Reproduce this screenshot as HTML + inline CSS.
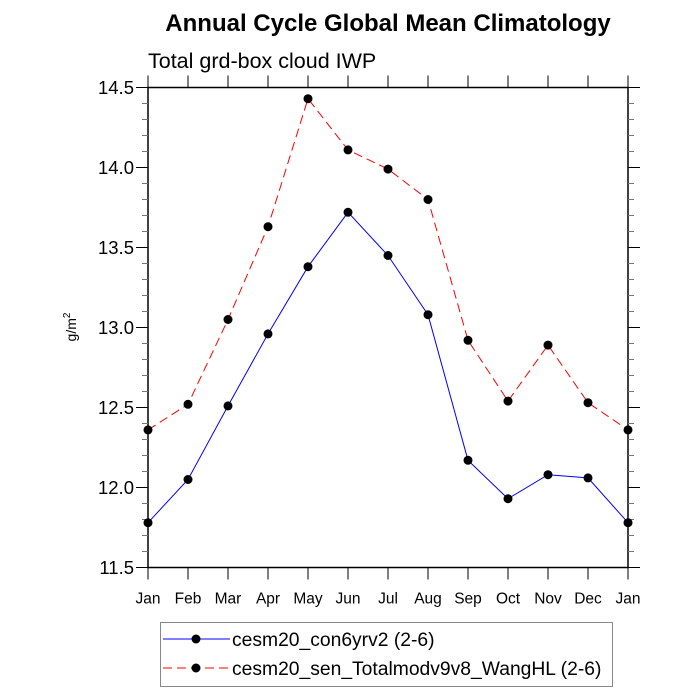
<!DOCTYPE html>
<html><head><meta charset="utf-8"><style>
html,body{margin:0;padding:0;background:#fff;}
svg{display:block;font-family:"Liberation Sans",sans-serif;}
</style></head><body>
<svg id="chart" width="700" height="700" viewBox="0 0 700 700">
<text x="388" y="31" text-anchor="middle" font-size="24" font-weight="bold">Annual Cycle Global Mean Climatology</text>
<text x="148" y="68" font-size="21.5">Total grd-box cloud IWP</text>
<text transform="translate(76,327) rotate(-90)" text-anchor="middle" font-size="14">g/m<tspan dy="-6" font-size="10">2</tspan></text>
<g id="axes"></g>
<g id="series"></g>
<g>
<rect x="160.5" y="622.5" width="452" height="64" fill="none" stroke="#888"/>
<g>
<line x1="163" y1="639" x2="230" y2="639" stroke="#0000ff" stroke-width="1"/>
<circle cx="196" cy="639" r="4.5" fill="#000"/>
<text x="232" y="646" font-size="19.3">cesm20_con6yrv2 (2-6)</text>
</g>
<g>
<line x1="163" y1="668" x2="230" y2="668" stroke="#ff0000" stroke-width="1" stroke-dasharray="9,5"/>
<circle cx="196" cy="668" r="4.5" fill="#000"/>
<text x="232" y="675" font-size="19.3">cesm20_sen_Totalmodv9v8_WangHL (2-6)</text>
</g>
</g>
</svg>
<script>
const months = ["Jan","Feb","Mar","Apr","May","Jun","Jul","Aug","Sep","Oct","Nov","Dec","Jan"];
const con6yrv2 = [11.78,12.05,12.51,12.96,13.38,13.72,13.45,13.08,12.17,11.93,12.08,12.06,11.78];
const totalmod = [12.36,12.52,13.05,13.63,14.43,14.11,13.99,13.80,12.92,12.54,12.89,12.53,12.36];
const yTickLabels = ["11.5","12.0","12.5","13.0","13.5","14.0","14.5"];
const yMin = 11.5, yMax = 14.5;
const L=148, R=628, T=87.5, B=567.5;
const NS="http://www.w3.org/2000/svg";
function xS(i){return L + (R-L)*i/(months.length-1);}
function yS(v){return B - (B-T)*(v-yMin)/(yMax-yMin);}
function mk(tag, attrs, parent){const e=document.createElementNS(NS,tag);for(const k in attrs)e.setAttribute(k,attrs[k]);parent.appendChild(e);return e;}
const axes=document.getElementById('axes');
const frame = mk('rect',{x:L,y:T,width:R-L,height:B-T,fill:'none',stroke:'#000','stroke-width':1.5},axes);


for(let v=yMin; v<=yMax+1e-9; v+=0.1){
  const y=yS(v);
  const major = Math.abs(Math.round(v*2)-v*2)<1e-6;
  const len = major?12:6;
  const tl = mk('line',{x1:L-len,y1:y,x2:L,y2:y,stroke:major?'#000':'#777','stroke-width':1},axes);
  
  
  const tr = mk('line',{x1:R,y1:y,x2:R+len,y2:y,stroke:major?'#000':'#777','stroke-width':1},axes);
  
  
}
yTickLabels.forEach(function(s){
  const t = mk('text',{x:L-14,y:yS(parseFloat(s))+6.5,'text-anchor':'end','font-size':18.5},axes);
  t.textContent=s;
  
  
});
months.forEach(function(m,i){
  const x=xS(i);
  const tb = mk('line',{x1:x,y1:B,x2:x,y2:B+12,stroke:'#000','stroke-width':1},axes);
  
  
  const tt = mk('line',{x1:x,y1:T-12,x2:x,y2:T,stroke:'#000','stroke-width':1},axes);
  
  
  const t = mk('text',{x:x,y:B+36,'text-anchor':'middle','font-size':15.5},axes);
  t.textContent=m;
  
  
});
const ser=document.getElementById('series');
function drawSeries(vals,color,dash,name){
  const g=mk('g',{},ser);
  
  
  const pts=vals.map(function(v,i){return xS(i)+','+yS(v);}).join(' ');
  const attrs={points:pts,fill:'none',stroke:color,'stroke-width':1};
  if(dash) attrs['stroke-dasharray']=dash;
  const pl=mk('polyline',attrs,g);
  
  
  vals.forEach(function(v,i){
    const c=mk('circle',{cx:xS(i),cy:yS(v),r:4.5,fill:'#000'},g);
    
    
  });
}
drawSeries(con6yrv2,'#0000ff',null,'series-con6yrv2');
drawSeries(totalmod,'#ff0000','9,5','series-totalmod');
</script>
</body></html>
